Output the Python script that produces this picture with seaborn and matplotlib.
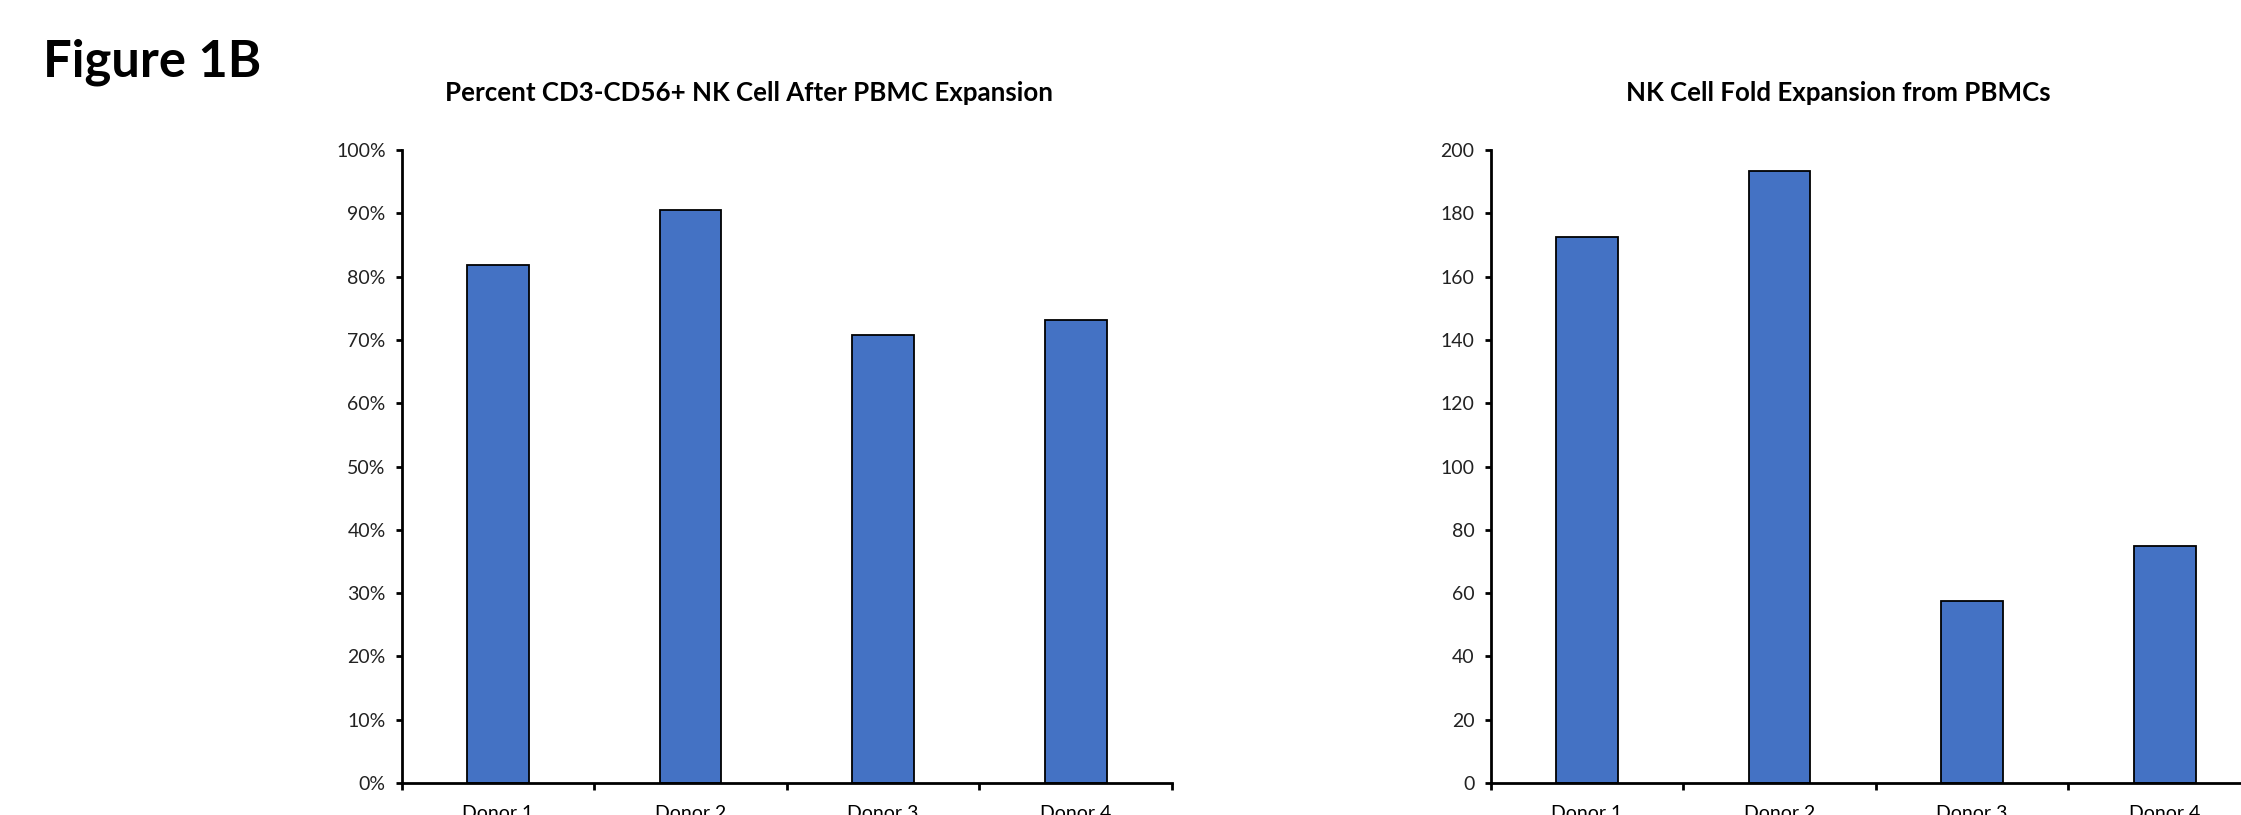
import matplotlib
matplotlib.use("Agg")
import matplotlib.pyplot as plt
import seaborn as sns
import numpy as np
from matplotlib.ticker import FuncFormatter, MultipleLocator, FixedLocator

sns.set_theme(style="white")
plt.rcParams['font.family'] = ['Lato', 'DejaVu Sans']

donors = ["Donor 1", "Donor 2", "Donor 3", "Donor 4"]
pct_nk = [81.8, 90.6, 70.8, 73.1]
fold_exp = [172.5, 193.5, 57.5, 74.8]

title_left = "Percent CD3-CD56+ NK Cell After PBMC Expansion"
title_right = "NK Cell Fold Expansion from PBMCs"
fig_label = "Figure 1B"

W, H = 2241, 815
fig = plt.figure(figsize=(W / 100, H / 100), dpi=100)
fig.patch.set_facecolor("white")

bar_color = "#4472C4"

def px(x0, y0, x1, y1):
    return [x0 / W, 1 - y1 / H, (x1 - x0) / W, (y1 - y0) / H]

ax1 = fig.add_axes(px(401.6, 150, 1172, 783))
ax2 = fig.add_axes(px(1490.6, 150, 2261, 783))

def style(ax, vals, ymax, step, fmt):
    sns.barplot(x=donors, y=vals, ax=ax, color=bar_color, edgecolor="black",
                linewidth=1.3, width=0.32, saturation=1)
    ax.set_xlim(-0.5, 3.5)
    ax.set_ylim(0, ymax)
    ax.yaxis.set_major_locator(MultipleLocator(step))
    ax.yaxis.set_major_formatter(FuncFormatter(fmt))
    for s in ["top", "right"]:
        ax.spines[s].set_visible(False)
    for s in ["left", "bottom"]:
        ax.spines[s].set_linewidth(2.0)
        ax.spines[s].set_color("black")
    ax.set_xlabel("")
    ax.set_ylabel("")
    ax.grid(False)
    ax.tick_params(axis="y", which="major", direction="out", length=4.5, width=2,
                   labelsize=14, pad=7, colors="black", left=True)
    ax.xaxis.set_major_locator(FixedLocator([-0.5, 0.5, 1.5, 2.5, 3.5]))
    ax.xaxis.set_minor_locator(FixedLocator([0, 1, 2, 3]))
    ax.xaxis.set_major_formatter(FuncFormatter(lambda v, p: ""))
    ax.xaxis.set_minor_formatter(FuncFormatter(lambda v, p: donors[int(round(v))]))
    ax.tick_params(axis="x", which="major", direction="out", length=5, width=2,
                   colors="black", bottom=True)
    ax.tick_params(axis="x", which="minor", length=0, labelsize=14, pad=16,
                   labelcolor="black", bottom=True)
    for lab in ax.get_yticklabels():
        lab.set_color("#222222")

style(ax1, pct_nk, 100, 10, lambda v, p: f"{v:.0f}%")
style(ax2, fold_exp, 200, 20, lambda v, p: f"{v:.0f}")

fig.text(749 / W, 1 - 93 / H, title_left, ha="center", va="center",
         fontsize=18.6, fontweight="bold", color="black")
fig.text(1838 / W, 1 - 93 / H, title_right, ha="center", va="center",
         fontsize=18.6, fontweight="bold", color="black")
fig.text(43 / W, 1 - 76 / H, fig_label, ha="left", va="baseline",
         fontsize=36.5, fontweight="bold", color="black")

fig.savefig("out.png", dpi=100, facecolor="white")
